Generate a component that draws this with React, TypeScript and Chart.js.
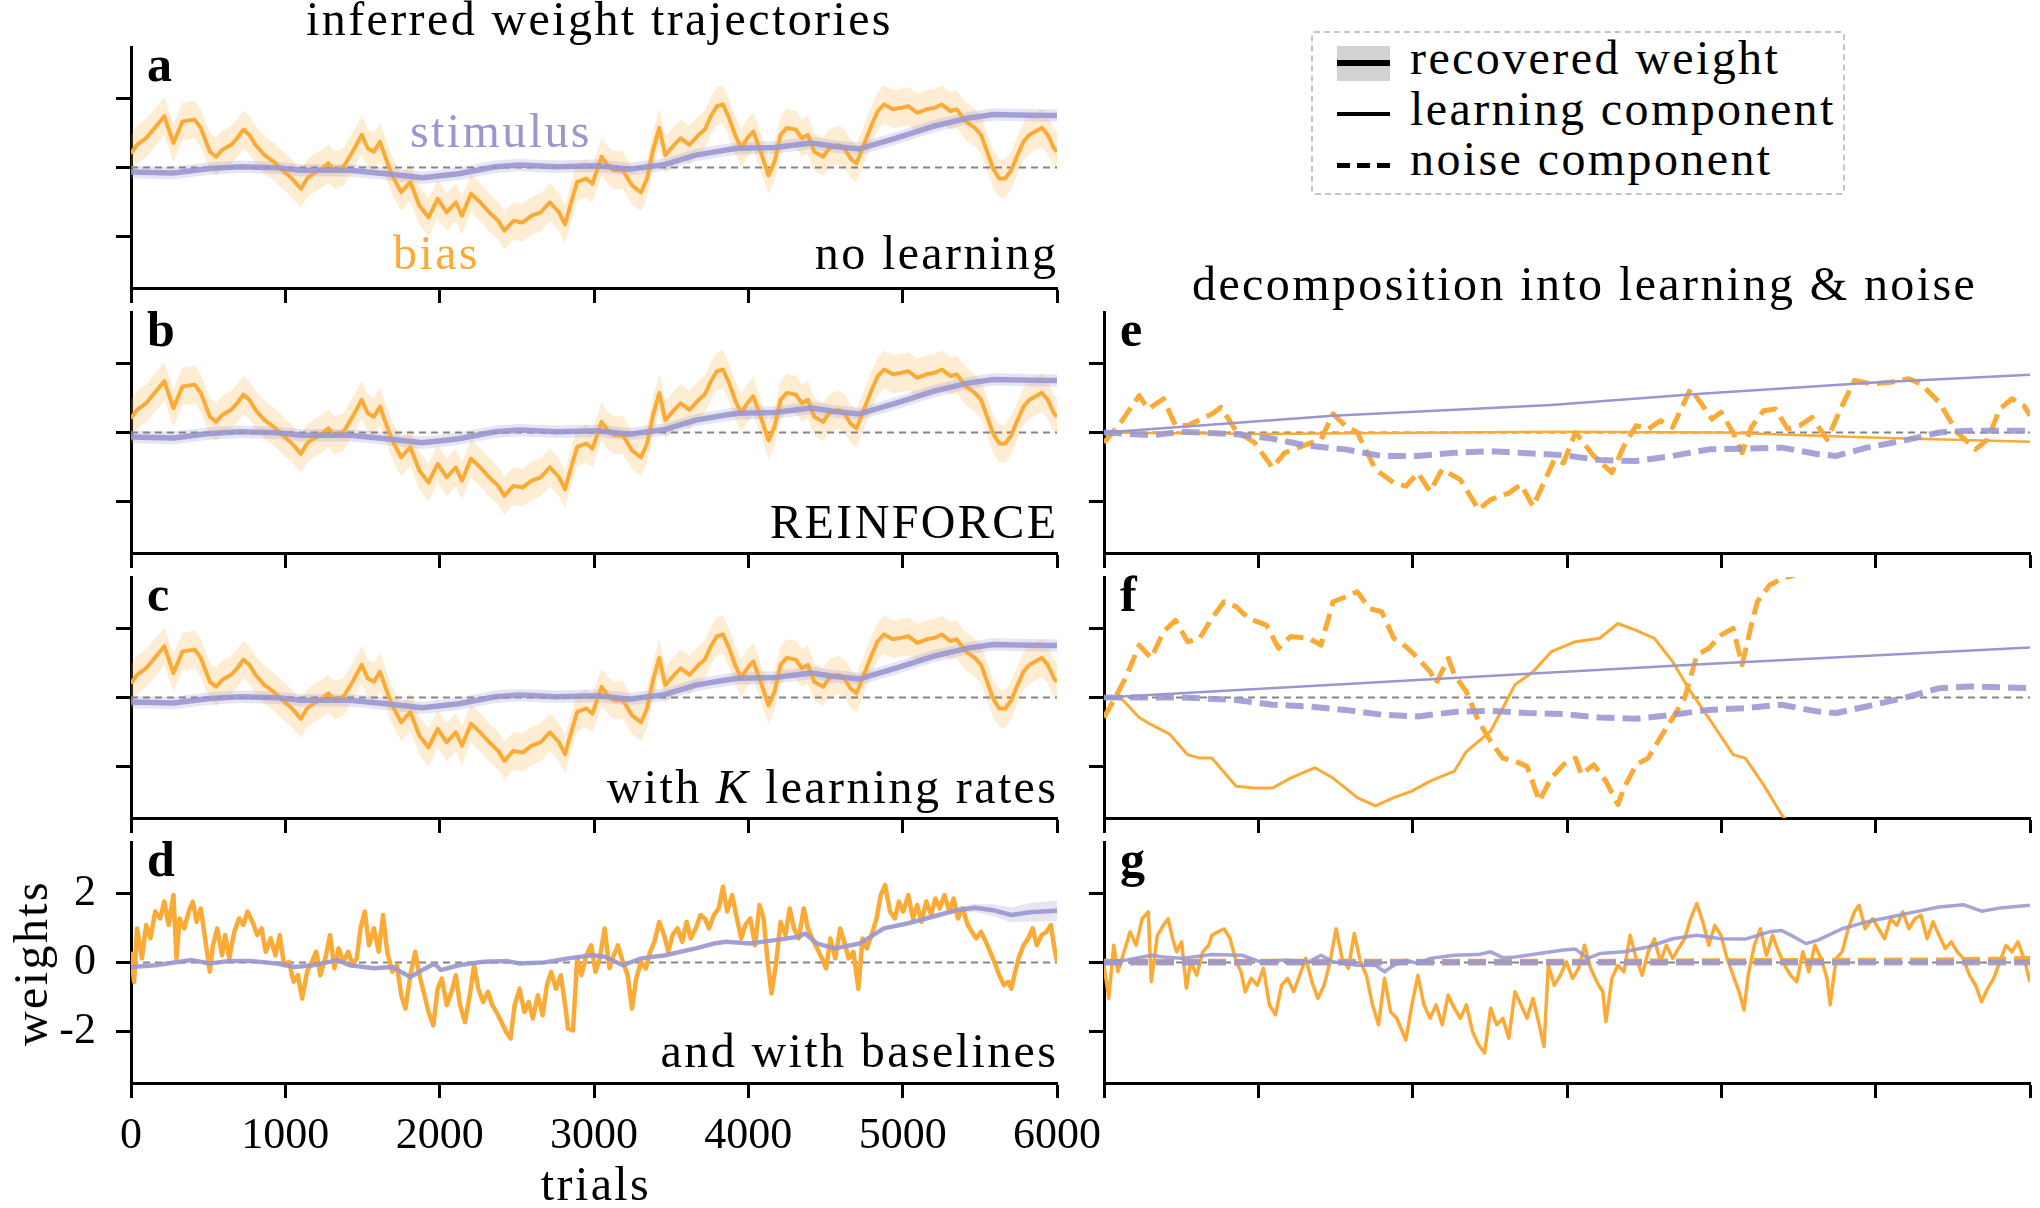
import React, { useEffect, useRef } from "react";
import { Chart, registerables } from "chart.js";

Chart.register(...registerables);

const FONT = "'Liberation Serif', 'Times New Roman', serif";
const ORANGE = "#fbaa36";
const PURPLE = "#9a96d0";
const PURPLE_SOFT = "rgba(154,150,208,0.88)";
const ORANGE_BAND = "rgba(251,170,54,0.22)";
const PURPLE_BAND = "rgba(154,150,208,0.25)";
const ZERO_GRAY = "#858585";

// axes
const X_TICKS = [0, 1000, 2000, 3000, 4000, 5000, 6000];
const Y_TICKS = [-2, 0, 2];
const X_RANGE = [0, 6000];
const Y_RANGE = [-3.5, 3.5];
const REF_T = [0, 6000];
const REF_Y = [0, 0];

// panels a-c : recovered weights (smooth)
const SMOOTH_BIAS_T = [0,39,98,216,275,334,413,452,511,551,590,649,688,728,767,806,865,924,983,1043,1101,1141,1180,1239,1279,1318,1377,1436,1495,1534,1574,1613,1652,1692,1751,1810,1869,1928,1987,2046,2105,2144,2203,2262,2321,2380,2419,2478,2537,2596,2655,2714,2773,2813,2852,2891,2950,2990,3049,3088,3127,3187,3246,3305,3344,3383,3423,3462,3521,3560,3619,3678,3718,3757,3796,3836,3875,3914,3954,3993,4032,4072,4131,4170,4209,4249,4308,4347,4386,4426,4485,4524,4583,4622,4662,4701,4740,4800,4839,4878,4937,4996,5036,5095,5154,5213,5252,5311,5350,5409,5468,5508,5547,5586,5626,5665,5704,5744,5783,5822,5862,5901,5940,5980,6000];
const SMOOTH_BIAS_Y = [0.41,0.66,0.85,1.49,0.71,1.34,1.39,1.15,0.46,0.31,0.51,0.66,0.85,1.10,0.95,0.66,0.36,0.17,-0.08,-0.32,-0.62,-0.32,-0.18,-0.03,0.12,-0.08,0.02,0.46,0.95,0.56,0.46,0.75,0.26,-0.23,-0.72,-0.42,-1.11,-1.45,-0.91,-1.30,-1.01,-1.40,-0.76,-1.01,-1.30,-1.55,-1.84,-1.55,-1.60,-1.40,-1.30,-1.01,-1.30,-1.65,-1.01,-0.42,-0.32,-0.47,0.31,0.07,-0.08,-0.08,-0.52,-0.72,-0.32,0.51,1.15,0.36,0.66,0.85,0.66,0.95,1.10,1.49,1.78,1.83,1.44,0.95,0.56,0.85,1.05,0.56,-0.23,0.17,0.95,1.15,1.10,0.85,0.95,0.46,0.31,0.56,0.66,0.56,0.26,0.12,0.56,1.25,1.64,1.83,1.69,1.74,1.78,1.59,1.69,1.74,1.83,1.64,1.69,1.34,1.15,0.95,0.46,-0.03,-0.32,-0.32,-0.08,0.36,0.75,0.95,1.05,1.15,0.95,0.56,0.46];
const SMOOTH_STIM_T = [0,275,511,708,944,1101,1416,1652,1888,2124,2360,2518,2754,3030,3226,3462,3659,3855,3934,4170,4406,4563,4721,4957,5193,5429,5586,5822,6000];
const SMOOTH_STIM_Y = [-0.13,-0.16,-0.03,0.02,-0.01,-0.08,-0.08,-0.18,-0.30,-0.18,0.02,0.07,0.02,0.05,-0.05,0.09,0.36,0.51,0.56,0.58,0.71,0.61,0.54,0.85,1.19,1.44,1.54,1.52,1.51];
const BIAS_CI = 0.55;
const STIM_CI = 0.18;

// panel d : with baselines (noisy)
const D_BIAS_T = [0,20,39,71,98,126,157,189,216,244,275,295,315,346,374,401,425,452,480,511,531,559,590,610,637,669,700,728,755,787,818,846,873,905,936,964,991,1023,1054,1082,1109,1141,1172,1200,1227,1259,1290,1318,1345,1377,1408,1436,1463,1487,1515,1542,1574,1605,1633,1660,1692,1723,1751,1778,1810,1841,1869,1896,1928,1959,1987,2014,2046,2077,2105,2132,2164,2195,2223,2250,2282,2313,2341,2368,2400,2431,2459,2486,2518,2549,2577,2604,2636,2667,2695,2722,2754,2785,2813,2832,2864,2891,2919,2950,2982,3010,3037,3069,3100,3128,3155,3187,3218,3246,3273,3305,3336,3364,3391,3423,3454,3482,3509,3541,3572,3600,3627,3659,3690,3718,3745,3777,3808,3836,3863,3895,3926,3954,3981,4013,4044,4072,4099,4123,4150,4178,4209,4241,4268,4296,4327,4359,4386,4414,4445,4477,4504,4532,4563,4595,4622,4650,4681,4713,4740,4768,4799,4831,4858,4886,4918,4949,4976,5004,5036,5067,5094,5122,5153,5185,5212,5240,5271,5303,5330,5358,5390,5421,5449,5476,5508,5539,5567,5594,5626,5657,5685,5704,5724,5751,5783,5814,5842,5869,5901,5932,5960,5980,6000];
const D_BIAS_Y = [0.31,-0.56,0.99,0.12,1.09,0.70,1.48,1.28,1.77,1.09,1.96,0.12,1.28,0.99,1.48,1.77,1.18,1.57,0.70,-0.27,0.50,0.99,0.21,0.80,0.12,0.89,1.28,1.09,1.48,1.18,0.80,0.99,0.31,0.70,0.21,0.80,-0.08,0.02,-0.56,-0.37,-1.05,-0.27,0.02,0.31,-0.37,0.12,0.80,-0.17,0.41,0.02,0.31,-0.08,0.12,0.99,1.48,0.50,0.99,0.31,1.38,0.31,-0.27,-0.08,-0.95,-1.34,-0.37,0.31,-0.37,-0.85,-1.44,-1.83,-0.76,-0.47,-1.24,-0.85,-0.37,-1.24,-1.73,-0.95,-0.08,-0.76,-1.15,-0.85,-1.24,-1.44,-1.73,-2.02,-2.21,-1.24,-0.76,-1.44,-1.15,-1.63,-0.95,-1.53,-0.66,-0.27,-0.76,-0.37,-1.24,-1.92,-1.97,0.12,-0.37,0.21,0.50,-0.27,0.12,0.99,-0.17,0.21,0.50,0.02,-0.37,-1.34,-0.47,0.02,-0.17,0.31,0.60,1.18,0.80,0.31,0.80,0.99,0.60,1.18,0.70,0.99,1.38,1.28,0.99,1.38,1.57,2.20,1.48,1.96,1.28,0.70,1.09,1.28,0.50,1.67,1.28,0.12,-0.90,-0.08,1.18,0.80,1.57,0.99,0.70,1.57,0.99,0.70,0.41,0.12,-0.17,0.70,0.12,0.99,0.60,0.12,0.31,-0.76,0.70,0.41,0.80,1.28,1.96,2.25,1.48,1.28,1.77,1.48,1.96,1.28,1.67,1.18,1.77,1.38,1.86,1.57,1.96,1.48,1.86,1.28,1.57,1.09,0.89,0.70,0.89,0.60,0.31,0.02,-0.37,-0.66,-0.56,-0.76,-0.37,0.12,0.50,0.70,0.99,0.50,0.80,0.89,1.09,0.50,0.02];
const D_STIM_T = [0,157,315,393,511,629,787,944,1062,1180,1338,1416,1574,1692,1810,1888,1967,2006,2124,2282,2439,2518,2675,2833,2990,3069,3187,3305,3462,3659,3777,3855,4013,4170,4327,4367,4445,4563,4721,4878,5036,5193,5350,5468,5586,5704,5822,6000];
const D_STIM_Y = [-0.13,-0.08,0.02,0.07,-0.03,0.04,0.04,-0.03,-0.13,-0.08,0.07,-0.08,-0.17,-0.13,-0.42,-0.22,-0.03,-0.22,-0.08,0.02,0.04,-0.03,0.0,0.12,0.21,0.17,-0.08,0.12,0.21,0.41,0.55,0.60,0.55,0.65,0.75,0.84,0.55,0.41,0.55,0.99,1.14,1.33,1.52,1.59,1.52,1.38,1.46,1.50];
const D_STIM_CI = [0.05,0.05,0.05,0.05,0.05,0.05,0.05,0.05,0.05,0.05,0.05,0.05,0.05,0.05,0.05,0.05,0.05,0.05,0.05,0.05,0.05,0.05,0.05,0.05,0.05,0.05,0.05,0.05,0.05,0.05,0.05,0.05,0.05,0.05,0.05,0.05,0.05,0.05,0.05,0.05,0.06,0.07,0.09,0.12,0.17,0.22,0.27,0.3];

// panel e : decomposition (REINFORCE)
const E_STIM_LEARN_T = [0, 1484, 2898, 3841, 5019, 6000];
const E_STIM_LEARN_Y = [0, 0.49, 0.80, 1.12, 1.46, 1.68];
const E_STIM_NOISE_T = [0,306,503,856,1092,1328,1563,1799,2034,2270,2506,2741,2977,3213,3448,3684,3919,4155,4391,4627,4745,4941,5177,5412,5608,6000];
const E_STIM_NOISE_Y = [0,-0.08,0.02,-0.05,-0.18,-0.39,-0.49,-0.68,-0.68,-0.59,-0.54,-0.6,-0.66,-0.8,-0.83,-0.68,-0.49,-0.47,-0.44,-0.63,-0.68,-0.44,-0.24,0,0.05,0.05];
const E_BIAS_LEARN_T = [0, 1000, 2900, 4000, 5020, 6000];
const E_BIAS_LEARN_Y = [0, -0.04, 0.02, 0.0, -0.15, -0.27];
const E_BIAS_NOISE_T = [0,110,228,287,385,463,542,699,758,856,974,1092,1170,1288,1406,1484,1563,1641,1759,1877,1956,2034,2113,2191,2309,2427,2505,2623,2702,2780,2859,2918,2977,3055,3173,3291,3369,3448,3526,3605,3684,3801,3880,3939,3998,4076,4135,4194,4273,4351,4430,4508,4587,4685,4783,4862,4980,5097,5215,5293,5411,5529,5647,5726,5804,5883,5961,6000];
const E_BIAS_NOISE_Y = [-0.3,0.3,1.07,0.68,0.98,0.20,0.20,0.54,0.73,0.05,-0.29,-1.02,-0.59,-0.39,-0.20,0.54,0.20,0.0,-1.07,-1.46,-1.56,-1.17,-1.71,-1.07,-1.37,-2.24,-1.95,-1.76,-1.51,-2.15,-1.37,-0.78,-0.88,0.0,-0.68,-1.17,-0.39,0.20,0.10,0.34,0.15,1.27,0.78,0.39,0.59,0.0,-0.59,0.15,0.63,0.68,0.10,0.20,0.44,-0.20,0.78,1.51,1.41,1.46,1.56,1.41,0.88,0.0,-0.49,-0.20,0.68,0.98,0.78,0.49];

// panel f : decomposition (K learning rates)
const F_STIM_LEARN_T = [0, 1484, 2780, 3841, 6000];
const F_STIM_LEARN_Y = [0, 0.37, 0.70, 0.96, 1.45];
const F_STIM_NOISE_T = [0,503,856,1092,1328,1563,1799,2034,2270,2506,2741,2977,3213,3448,3684,3919,4155,4391,4627,4745,4941,5177,5412,5608,6000];
const F_STIM_NOISE_Y = [0,0,-0.07,-0.21,-0.26,-0.36,-0.50,-0.55,-0.42,-0.39,-0.45,-0.48,-0.58,-0.62,-0.50,-0.36,-0.31,-0.21,-0.41,-0.45,-0.26,-0.02,0.27,0.32,0.27];
const F_BIAS_LEARN_T = [0,110,228,306,424,542,620,699,856,974,1092,1209,1367,1484,1641,1759,1877,1995,2113,2270,2348,2505,2663,2780,2898,3055,3212,3330,3448,3566,3684,3801,3919,4076,4155,4273,4390,4548];
const F_BIAS_LEARN_Y = [0,-0.02,-0.58,-0.79,-1.06,-1.66,-1.76,-1.76,-2.58,-2.63,-2.63,-2.34,-2.04,-2.34,-2.91,-3.15,-2.91,-2.72,-2.43,-2.14,-1.57,-0.98,0.37,0.75,1.33,1.62,1.72,2.15,1.95,1.72,1.04,0.17,-0.60,-1.66,-1.76,-2.53,-3.40,-4.2];
const F_BIAS_NOISE_T = [0,71,149,228,306,385,463,542,620,699,778,856,935,1052,1131,1209,1327,1406,1484,1563,1641,1720,1799,1877,1956,2034,2113,2152,2231,2270,2348,2427,2505,2584,2663,2741,2820,2898,2977,3055,3094,3173,3252,3330,3369,3448,3526,3605,3684,3762,3841,3919,3998,4076,4135,4194,4233,4312,4390,4469,4626];
const F_BIAS_NOISE_Y = [-0.58,-0.02,0.66,1.52,1.14,1.91,2.24,1.62,1.72,2.30,2.78,2.64,2.30,2.10,1.43,1.77,1.72,1.52,2.78,2.92,3.07,2.59,2.49,1.72,1.48,1.14,0.75,0.41,1.14,0.66,0.17,-0.69,-1.27,-1.76,-1.85,-2.00,-3.01,-2.34,-1.95,-1.76,-2.24,-1.95,-2.43,-3.11,-2.63,-1.95,-1.76,-1.16,-0.60,-0.02,1.23,1.43,1.81,2.01,0.95,2.10,2.78,3.26,3.45,3.55,4.5];

// panel g : decomposition (with baselines)
const G_BIAS_LEARN_T = [0,31,63,90,130,169,208,247,287,306,346,385,416,444,471,503,534,562,601,640,679,699,738,778,817,856,888,915,954,994,1033,1072,1111,1151,1190,1229,1268,1308,1347,1386,1426,1465,1504,1543,1583,1622,1661,1700,1740,1779,1818,1857,1897,1956,1995,2034,2073,2113,2152,2191,2230,2270,2309,2348,2388,2427,2466,2505,2545,2584,2623,2663,2702,2741,2780,2820,2851,2879,2918,2957,2996,3036,3075,3114,3153,3193,3232,3252,3291,3330,3369,3409,3448,3487,3526,3566,3605,3644,3684,3723,3762,3801,3841,3880,3919,3958,3998,4037,4076,4115,4147,4174,4214,4253,4292,4332,4371,4410,4449,4489,4528,4567,4606,4646,4685,4705,4744,4783,4822,4862,4893,4932,4980,5019,5058,5097,5137,5176,5215,5254,5294,5333,5372,5411,5451,5490,5529,5568,5608,5647,5686,5726,5765,5804,5844,5883,5922,5961,6000];
const G_BIAS_LEARN_Y = [-0.08,-1.04,0.50,-0.27,0.31,0.89,0.50,1.27,1.47,-0.56,0.79,1.08,1.27,0.69,0.31,0.60,-0.75,0.02,-0.37,0.31,0.50,0.79,0.89,0.98,0.69,0.02,-0.27,-0.85,-0.46,-0.66,-0.17,-1.23,-1.52,-0.66,-0.46,-0.85,-0.37,0.12,-0.56,-1.04,-0.66,0.02,0.98,0.12,-0.17,0.84,0.02,-0.37,-1.23,-1.81,-0.46,-1.43,-1.62,-2.25,-1.23,-0.37,-1.23,-1.62,-1.23,-1.81,-0.95,-1.33,-1.62,-1.23,-2.01,-2.39,-2.63,-1.33,-1.81,-1.62,-2.20,-0.85,-1.23,-1.62,-1.04,-1.81,-2.44,-0.08,-0.66,-0.37,0.02,-0.46,-0.17,0.50,-0.17,-0.56,-0.85,-1.72,-0.46,-0.08,-0.27,0.79,0.12,-0.37,0.31,0.69,0.02,0.50,0.12,0.41,0.69,1.27,1.71,1.18,0.50,1.08,0.79,0.12,-0.37,-0.85,-1.38,-0.37,0.50,0.98,0.21,0.79,0.31,-0.08,-0.37,-0.56,0.31,-0.27,0.50,0.12,-0.46,-1.23,0.12,0.31,0.98,1.47,1.66,0.98,1.27,0.98,0.69,1.27,1.08,1.47,0.98,1.27,1.37,0.69,1.18,0.79,0.41,0.60,0.31,0.12,-0.37,-0.66,-1.14,-0.75,-0.46,0.02,0.50,0.31,0.60,0.12,-0.56];
const G_STIM_LEARN_T = [0,149,306,385,503,699,895,1013,1170,1327,1406,1484,1641,1759,1818,1877,1956,2034,2113,2270,2427,2505,2584,2663,2820,2977,3055,3134,3212,3369,3526,3684,3841,3998,4155,4312,4390,4469,4548,4626,4783,4941,5097,5254,5411,5568,5686,5804,6000];
const G_STIM_LEARN_Y = [0,0.07,0.21,0.16,0.12,0.23,0.21,0.02,0.07,0.02,0.21,0.02,-0.08,-0.08,-0.27,-0.08,0.07,-0.03,0.12,0.21,0.23,0.31,0.14,0.16,0.26,0.36,0.39,0.12,0.26,0.31,0.45,0.69,0.79,0.69,0.68,0.89,0.93,0.75,0.55,0.65,0.98,1.18,1.32,1.47,1.61,1.68,1.49,1.58,1.66];
const G_BIAS_NOISE_T = [0, 3000, 5400, 6000];
const G_BIAS_NOISE_Y = [0.02, 0.02, 0.06, 0.1];
const G_STIM_NOISE_T = [0, 6000];
const G_STIM_NOISE_Y = [0.0, 0.0];

// ---------------------------------------------------------------
type Line = {
  t: number[];
  y: number[];
  color: string;
  width: number;
  dash?: number[];
  ci?: number[];
  ciColor?: string;
  order: number;
};

function pts(t: number[], y: number[]) {
  return t.map((x, i) => ({ x, y: y[i] }));
}
function constCI(y: number[], v: number) {
  return y.map(() => v);
}

function buildDatasets(lines: Line[]) {
  const ds: any[] = [];
  lines.forEach((l) => {
    if (l.ci) {
      const ci = l.ci;
      ds.push({
        data: pts(l.t, l.y.map((v, i) => v + ci[i])),
        fill: "+1",
        backgroundColor: l.ciColor,
        borderWidth: 0,
        borderColor: "rgba(0,0,0,0)",
        pointRadius: 0,
        order: l.order + 30,
      });
      ds.push({
        data: pts(l.t, l.y.map((v, i) => v - ci[i])),
        fill: false,
        borderWidth: 0,
        borderColor: "rgba(0,0,0,0)",
        pointRadius: 0,
        order: l.order + 30,
      });
    }
  });
  ds.push({
    data: pts(REF_T, REF_Y),
    borderColor: ZERO_GRAY,
    borderWidth: 2,
    borderDash: [7, 5],
    pointRadius: 0,
    fill: false,
    order: 25,
  });
  lines.forEach((l) =>
    ds.push({
      data: pts(l.t, l.y),
      borderColor: l.color,
      borderWidth: l.width,
      borderDash: l.dash ?? [],
      borderJoinStyle: "round",
      borderCapStyle: "butt",
      pointRadius: 0,
      fill: false,
      tension: 0,
      order: l.order,
    })
  );
  return ds;
}

const PT = 50;
const PW = 926;
const PH = 241;

type Spec = {
  x0: number;
  y0: number;
  yw: number;
  pr: number;
  xh: number;
  showX: boolean;
  showY: boolean;
  lines: Line[];
};

const LEFT_X = 131;
const RIGHT_X = 1104;
const ROW_Y = [47, 312, 577, 842];

const smoothLines = (): Line[] => [
  { t: SMOOTH_BIAS_T, y: SMOOTH_BIAS_Y, color: ORANGE, width: 4, ci: constCI(SMOOTH_BIAS_Y, BIAS_CI), ciColor: ORANGE_BAND, order: 6 },
  { t: SMOOTH_STIM_T, y: SMOOTH_STIM_Y, color: PURPLE_SOFT, width: 5.5, ci: constCI(SMOOTH_STIM_Y, STIM_CI), ciColor: PURPLE_BAND, order: 5 },
];

const NOISE_DASH = [18, 8];

const PANELS: Spec[] = [
  { x0: LEFT_X, y0: ROW_Y[0], yw: LEFT_X, pr: 60, xh: 30, showX: false, showY: false, lines: smoothLines() },
  { x0: LEFT_X, y0: ROW_Y[1], yw: LEFT_X, pr: 60, xh: 30, showX: false, showY: false, lines: smoothLines() },
  { x0: LEFT_X, y0: ROW_Y[2], yw: LEFT_X, pr: 60, xh: 30, showX: false, showY: false, lines: smoothLines() },
  {
    x0: LEFT_X, y0: ROW_Y[3], yw: LEFT_X, pr: 60, xh: 100, showX: true, showY: true,
    lines: [
      { t: D_BIAS_T, y: D_BIAS_Y, color: ORANGE, width: 4.5, order: 6 },
      { t: D_STIM_T, y: D_STIM_Y, color: PURPLE_SOFT, width: 4.5, ci: D_STIM_CI, ciColor: PURPLE_BAND, order: 5 },
    ],
  },
  {
    x0: RIGHT_X, y0: ROW_Y[1], yw: 60, pr: 10, xh: 30, showX: false, showY: false,
    lines: [
      { t: E_BIAS_LEARN_T, y: E_BIAS_LEARN_Y, color: ORANGE, width: 2.5, order: 8 },
      { t: E_BIAS_NOISE_T, y: E_BIAS_NOISE_Y, color: ORANGE, width: 5, dash: NOISE_DASH, order: 7 },
      { t: E_STIM_LEARN_T, y: E_STIM_LEARN_Y, color: PURPLE, width: 2.5, order: 6 },
      { t: E_STIM_NOISE_T, y: E_STIM_NOISE_Y, color: PURPLE_SOFT, width: 6, dash: NOISE_DASH, order: 5 },
    ],
  },
  {
    x0: RIGHT_X, y0: ROW_Y[2], yw: 60, pr: 10, xh: 30, showX: false, showY: false,
    lines: [
      { t: F_BIAS_LEARN_T, y: F_BIAS_LEARN_Y, color: ORANGE, width: 3, order: 8 },
      { t: F_BIAS_NOISE_T, y: F_BIAS_NOISE_Y, color: ORANGE, width: 5, dash: NOISE_DASH, order: 7 },
      { t: F_STIM_LEARN_T, y: F_STIM_LEARN_Y, color: PURPLE, width: 2.5, order: 6 },
      { t: F_STIM_NOISE_T, y: F_STIM_NOISE_Y, color: PURPLE_SOFT, width: 6, dash: NOISE_DASH, order: 5 },
    ],
  },
  {
    x0: RIGHT_X, y0: ROW_Y[3], yw: 60, pr: 10, xh: 30, showX: false, showY: false,
    lines: [
      { t: G_BIAS_LEARN_T, y: G_BIAS_LEARN_Y, color: ORANGE, width: 3.5, order: 8 },
      { t: G_BIAS_NOISE_T, y: G_BIAS_NOISE_Y, color: ORANGE, width: 6, dash: NOISE_DASH, order: 7 },
      { t: G_STIM_LEARN_T, y: G_STIM_LEARN_Y, color: PURPLE_SOFT, width: 3.5, order: 6 },
      { t: G_STIM_NOISE_T, y: G_STIM_NOISE_Y, color: PURPLE_SOFT, width: 6, dash: NOISE_DASH, order: 5 },
    ],
  },
];

function Panel({ spec }: { spec: Spec }) {
  const ref = useRef<HTMLCanvasElement | null>(null);
  const width = spec.yw + PW + spec.pr;
  const height = PT + PH + spec.xh;
  useEffect(() => {
    const tickFont = { family: FONT, size: 44 };
    const chart = new Chart(ref.current as HTMLCanvasElement, {
      type: "line",
      data: { datasets: buildDatasets(spec.lines) },
      options: {
        responsive: false,
        maintainAspectRatio: false,
        animation: false,
        devicePixelRatio: 1,
        events: [],
        layout: { padding: { left: 0, right: spec.pr, top: PT, bottom: 0 } },
        plugins: { legend: { display: false }, tooltip: { enabled: false } },
        scales: {
          x: {
            type: "linear",
            min: X_RANGE[0],
            max: X_RANGE[1],
            afterBuildTicks: (s: any) => {
              s.ticks = X_TICKS.map((v) => ({ value: v }));
            },
            afterFit: (s: any) => {
              s.height = spec.xh;
            },
            grid: { drawOnChartArea: false, drawTicks: true, tickLength: 15, tickWidth: 3, tickColor: "#000" },
            border: { display: true, color: "#000", width: 3 },
            ticks: {
              display: spec.showX,
              font: tickFont,
              color: "#000",
              padding: 12,
              maxRotation: 0,
              minRotation: 0,
              autoSkip: false,
              callback: (v: any) => String(v),
            },
          },
          y: {
            type: "linear",
            min: Y_RANGE[0],
            max: Y_RANGE[1],
            afterBuildTicks: (s: any) => {
              s.ticks = Y_TICKS.map((v) => ({ value: v }));
            },
            afterFit: (s: any) => {
              s.width = spec.yw;
            },
            grid: { drawOnChartArea: false, drawTicks: true, tickLength: 15, tickWidth: 3, tickColor: "#000" },
            border: { display: true, color: "#000", width: 3 },
            ticks: {
              display: spec.showY,
              font: tickFont,
              color: "#000",
              padding: 20,
              autoSkip: false,
              callback: (v: any) => String(v),
            },
          },
        },
      } as any,
    });
    return () => chart.destroy();
  }, []);
  return (
    <canvas
      ref={ref}
      width={width}
      height={height}
      style={{ position: "absolute", left: spec.x0 - spec.yw, top: spec.y0 - PT, width, height }}
    />
  );
}

const TEXT_SIZE = 48;
const SPACING = 2.4;

function Txt(props: {
  x: number;
  base: number;
  size?: number;
  align?: "left" | "right" | "center";
  color?: string;
  bold?: boolean;
  spacing?: number;
  children: any;
}) {
  const size = props.size ?? TEXT_SIZE;
  const sp = props.spacing ?? SPACING;
  const style: any = {
    position: "absolute",
    top: props.base - 0.8375 * size,
    fontSize: size,
    lineHeight: `${size}px`,
    whiteSpace: "nowrap",
    color: props.color ?? "#000",
    letterSpacing: sp,
    fontWeight: props.bold ? "bold" : "normal",
    fontFamily: FONT,
  };
  const align = props.align ?? "left";
  if (align === "left") style.left = props.x;
  else if (align === "right") style.right = 2040 - props.x - sp;
  else {
    style.left = props.x;
    style.transform = "translateX(-50%)";
  }
  return <div style={style}>{props.children}</div>;
}

const LETTERS = [
  { s: "a", x: 147, b: 81 },
  { s: "b", x: 147, b: 346 },
  { s: "c", x: 147, b: 611 },
  { s: "d", x: 147, b: 876 },
  { s: "e", x: 1120, b: 346 },
  { s: "f", x: 1120, b: 611 },
  { s: "g", x: 1120, b: 876 },
];

function Legend() {
  const hx = 1337;
  const hw = 53;
  return (
    <>
      <div
        style={{
          position: "absolute",
          left: 1311,
          top: 31,
          width: 534,
          height: 164,
          boxSizing: "border-box",
          border: "2px dashed #c4c4c4",
          borderRadius: 3,
          background: "#fff",
        }}
      />
      <div style={{ position: "absolute", left: hx, top: 46, width: hw, height: 35, background: "#d2d2d2" }} />
      <div style={{ position: "absolute", left: hx, top: 60, width: hw, height: 6, background: "#000" }} />
      <div style={{ position: "absolute", left: hx, top: 112, width: hw, height: 4, background: "#000" }} />
      {[0, 1, 2].map((i) => (
        <div key={i} style={{ position: "absolute", left: hx + i * 20, top: 163, width: 13, height: 5, background: "#000" }} />
      ))}
      <Txt x={1410} base={74}>recovered weight</Txt>
      <Txt x={1410} base={125}>learning component</Txt>
      <Txt x={1410} base={175}>noise component</Txt>
    </>
  );
}

export default function App() {
  return (
    <div
      style={{
        position: "absolute",
        left: 0,
        top: 0,
        width: 2040,
        height: 1208,
        background: "#fff",
        overflow: "hidden",
        fontFamily: FONT,
      }}
    >
      {PANELS.map((p, i) => (
        <Panel key={i} spec={p} />
      ))}
      <Txt x={306} base={35}>inferred weight trajectories</Txt>
      <Txt x={1192} base={300}>decomposition into learning &amp; noise</Txt>
      {LETTERS.map((l) => (
        <Txt key={l.s} x={l.x} base={l.b} bold size={50} spacing={0}>
          {l.s}
        </Txt>
      ))}
      <Txt x={410} base={147} color={PURPLE}>stimulus</Txt>
      <Txt x={393} base={269} color={ORANGE}>bias</Txt>
      <Txt x={1056} base={269} align="right">no learning</Txt>
      <Txt x={1056} base={538} align="right">REINFORCE</Txt>
      <Txt x={1056} base={803} align="right">
        with <i>K</i> learning rates
      </Txt>
      <Txt x={1056} base={1067} align="right">and with baselines</Txt>
      <Txt x={596} base={1200} align="center">trials</Txt>
      <div
        style={{
          position: "absolute",
          left: 31,
          top: 963,
          transform: "translate(-50%, -50%) rotate(-90deg)",
          fontSize: TEXT_SIZE,
          lineHeight: `${TEXT_SIZE}px`,
          letterSpacing: SPACING,
          whiteSpace: "nowrap",
          fontFamily: FONT,
        }}
      >
        weights
      </div>
      <Legend />
    </div>
  );
}
